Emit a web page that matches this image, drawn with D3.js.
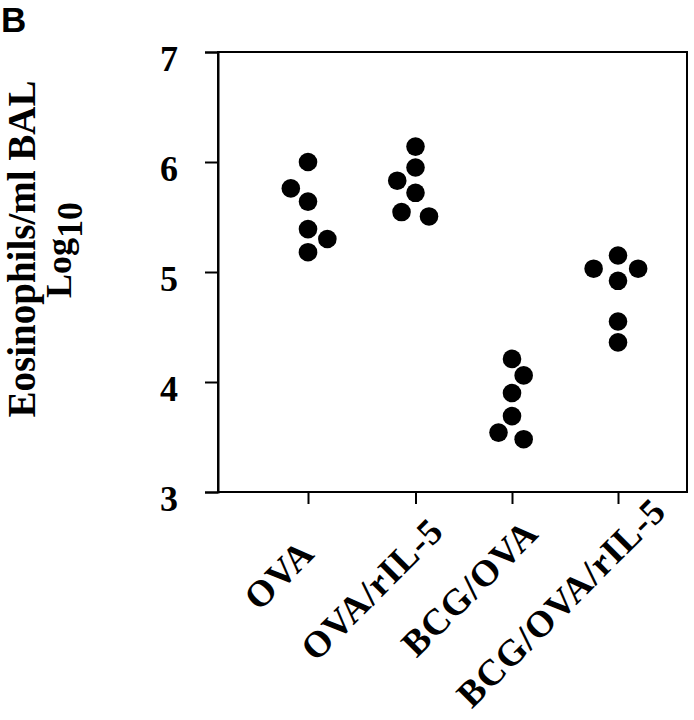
<!DOCTYPE html>
<html>
<head>
<meta charset="utf-8">
<script src="https://cdn.jsdelivr.net/npm/d3@7"></script>
<style>
  html, body { margin: 0; padding: 0; background: #fff; }
  svg { display: block; }
</style>
</head>
<body>
<div id="chart"></div>
<script>
  // groups and the six log10 eosinophil counts
  var categories = ['OVA', 'OVA/rIL-5', 'BCG/OVA', 'BCG/OVA/rIL-5'];
  var values = [
    [6.00, 5.76, 5.64, 5.39, 5.30, 5.18],
    [6.14, 5.95, 5.83, 5.72, 5.545, 5.505],
    [4.21, 4.06, 3.90, 3.69, 3.54, 3.48],
    [5.15, 5.03, 5.03, 4.92, 4.55, 4.36]
  ];
  // horizontal spread of each dot, in group units
  var jitter = [
    [0, -0.16, 0, 0, 0.18, 0],
    [0, 0, -0.17, 0, -0.13, 0.14],
    [0, 0.11, 0, 0, -0.14, 0.11],
    [0, -0.23, 0.19, 0, 0, 0]
  ];
  var yTicks = [3, 4, 5, 6, 7];

  var W = 694, H = 720;
  var margin = { top: 52, right: 7, bottom: 228, left: 218 };
  var width = W - margin.left - margin.right;
  var height = H - margin.top - margin.bottom;
  var serif = '"Liberation Serif", "Times New Roman", serif';

  var svg = d3.select('#chart').append('svg')
    .attr('width', W)
    .attr('height', H);

  svg.append('text')
    .attr('x', 1)
    .attr('y', 32)
    .text('B')
    .style('font-family', '"Liberation Sans", Arial, sans-serif')
    .style('font-weight', 'bold')
    .style('font-size', '35px');

  var g = svg.append('g')
    .attr('transform', 'translate(' + margin.left + ',' + margin.top + ')');

  var x = d3.scaleLinear()
    .domain([0, 1, 2, 3])
    .range([90, 197.5, 294, 400]);

  var y = d3.scaleLinear()
    .domain([3, 7])
    .range([height, 0]);

  // frame
  g.append('rect')
    .attr('x', 0)
    .attr('y', y(7))
    .attr('width', width)
    .attr('height', y(3) - y(7))
    .attr('fill', 'none')
    .attr('stroke', '#000')
    .attr('stroke-width', 2);

  var yAxis = g.append('g')
    .call(d3.axisLeft(y).tickValues(yTicks).tickSize(13).tickPadding(27).tickFormat(d3.format('d')));
  yAxis.select('.domain').attr('stroke-width', 2);
  yAxis.selectAll('.tick line').attr('stroke-width', 2);
  yAxis.selectAll('.tick text')
    .attr('dy', '0.5em')
    .style('font-family', serif)
    .style('font-weight', 'bold')
    .style('font-size', '36px')
    .style('fill', '#000');

  var xAxis = g.append('g')
    .attr('transform', 'translate(0,' + height + ')')
    .call(d3.axisBottom(x).tickValues(d3.range(categories.length)).tickSize(12).tickFormat(''));
  xAxis.select('.domain').remove();
  xAxis.selectAll('.tick line').attr('stroke-width', 2);

  // rotated group labels
  var labels = g.selectAll('.cat-label')
    .data(categories)
    .enter()
    .append('text')
    .attr('class', 'cat-label')
    .attr('transform', function (d, i) {
      return 'translate(' + (x(i) - 18) + ',' + (height + 71) + ') rotate(-45)';
    })
    .attr('dy', '0.35em')
    .style('font-family', serif)
    .style('font-weight', 'bold')
    .style('font-size', '37px')
    .style('letter-spacing', '1px')
    .text(function (d) { return d; });
  labels.attr('x', function () { return -0.7 * this.getComputedTextLength(); });

  // dots
  var points = [];
  values.forEach(function (vals, i) {
    vals.forEach(function (v, j) {
      points.push({ group: i + jitter[i][j], value: v });
    });
  });

  g.selectAll('.dot')
    .data(points)
    .enter()
    .append('circle')
    .attr('class', 'dot')
    .attr('cx', function (d) { return x(d.group); })
    .attr('cy', function (d) { return y(d.value); })
    .attr('r', 9.3)
    .attr('fill', '#000');

  // y axis title
  svg.append('text')
    .attr('transform', 'translate(35,249) rotate(-90)')
    .attr('text-anchor', 'middle')
    .style('font-family', serif)
    .style('font-weight', 'bold')
    .style('font-size', '39px')
    .text('Eosinophils/ml BAL');

  var logText = svg.append('text')
    .attr('transform', 'translate(71,250) rotate(-90)')
    .attr('text-anchor', 'middle')
    .style('font-family', serif)
    .style('font-weight', 'bold')
    .style('font-size', '36px');
  logText.append('tspan').text('Log');
  logText.append('tspan').attr('dy', 11).text('10');
</script>
</body>
</html>
